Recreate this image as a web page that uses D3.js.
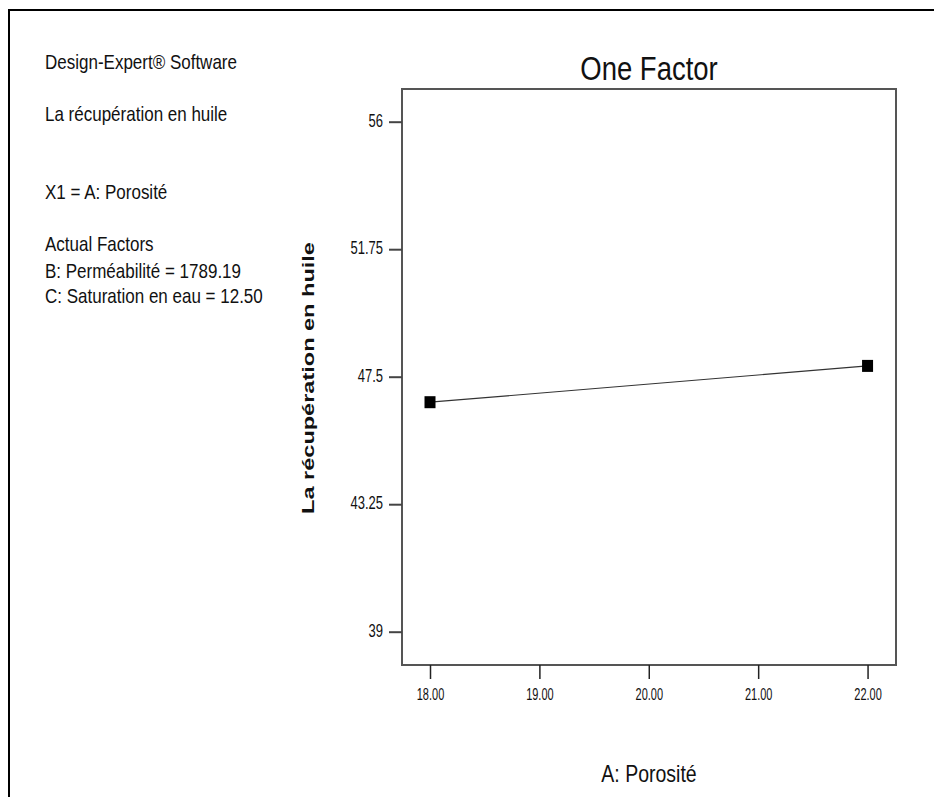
<!DOCTYPE html>
<html>
<head>
<meta charset="utf-8">
<script src="https://cdn.jsdelivr.net/npm/d3@7"></script>
<style>
  body { margin: 0; background: #fff; }
  text { font-family: "Liberation Sans", Arial, sans-serif; fill: #111; }
</style>
</head>
<body>
<div id="chart"></div>
<script>
// values
let porosite = [18, 22];
let recuperation = [46.65, 47.86];
let xTicks = [18, 19, 20, 21, 22];
let yTicks = [39, 43.25, 47.5, 51.75, 56];
let infoLines = [
  {t: "Design-Expert® Software", y: 69},
  {t: "La récupération en huile", y: 121},
  {t: "X1 = A: Porosité", y: 199},
  {t: "Actual Factors", y: 251},
  {t: "B: Perméabilité = 1789.19", y: 278},
  {t: "C: Saturation en eau = 12.50", y: 303}
];

let w = 934,
    h = 797;

let margin = { top: 89, left: 402, right: 38, bottom: 132 };

// the original picture is stretched in height, so text gets a vertical scale
let stretch = (sel, sy) => sel.attr("transform", function() {
  let t = d3.select(this).attr("data-pos");
  return `${t} scale(1,${sy})`;
});

let svg = d3.select("#chart")
            .append("svg")
            .attr("width", w)
            .attr("height", h);

// outer frame (only top and left show)
svg.append("path")
   .attr("d", `M9,${h} V10 H${w}`)
   .attr("fill", "none")
   .attr("stroke", "#000")
   .attr("stroke-width", 2);

let x = d3.scaleLinear()
          .domain([17.744, 22.26])
          .range([margin.left, w - margin.right]);

let y = d3.scaleLinear()
          .domain([37.89, 57.09])
          .range([h - margin.bottom, margin.top]);

// plot box
svg.append("rect")
   .attr("x", margin.left)
   .attr("y", margin.top)
   .attr("width", w - margin.right - margin.left)
   .attr("height", h - margin.bottom - margin.top)
   .attr("fill", "none")
   .attr("stroke", "#555")
   .attr("stroke-width", 2);

// y axis
let yAxis = svg.append("g")
   .attr("transform", `translate(${margin.left},0)`)
   .call(d3.axisLeft(y).tickValues(yTicks).tickSize(13).tickPadding(6).tickFormat(d => d));
yAxis.select(".domain").remove();
yAxis.selectAll(".tick line").attr("stroke", "#444").attr("stroke-width", 2);
yAxis.selectAll(".tick text")
     .style("font-size", "13px")
     .style("font-family", "Liberation Sans, Arial, sans-serif")
     .attr("fill", "#222")
     .attr("x", null).attr("dy", null)
     .attr("data-pos", "translate(-19,4.5)")
     .call(stretch, 1.42);

// x axis
let xAxis = svg.append("g")
   .attr("transform", `translate(0,${h - margin.bottom})`)
   .call(d3.axisBottom(x).tickValues(xTicks).tickSize(14).tickPadding(10).tickFormat(d3.format(".2f")));
xAxis.select(".domain").remove();
xAxis.selectAll(".tick line").attr("stroke", "#222").attr("stroke-width", 1.5);
xAxis.selectAll(".tick text")
     .style("font-size", "11px")
     .style("font-family", "Liberation Sans, Arial, sans-serif")
     .attr("fill", "#222")
     .attr("y", null).attr("dy", null)
     .attr("data-pos", "translate(0,35)")
     .call(stretch, 1.45);

// line and points
let pts = porosite.map((d, i) => [d, recuperation[i]]);

svg.append("path")
   .datum(pts)
   .attr("d", d3.line().x(d => x(d[0])).y(d => y(d[1])))
   .attr("fill", "none")
   .attr("stroke", "#333")
   .attr("stroke-width", 1.2);

svg.selectAll(".pt")
   .data(pts)
   .enter()
   .append("rect")
   .attr("class", "pt")
   .attr("x", d => x(d[0]) - 5.5)
   .attr("y", d => y(d[1]) - 6)
   .attr("width", 11)
   .attr("height", 12)
   .attr("fill", "#000");

// titles
let cx = (margin.left + w - margin.right) / 2;

svg.append("text")
   .attr("text-anchor", "middle")
   .style("font-size", "27.5px")
   .attr("data-pos", `translate(${cx},80)`)
   .call(stretch, 1.18)
   .text("One Factor");

svg.append("text")
   .attr("text-anchor", "middle")
   .style("font-size", "19.5px")
   .attr("data-pos", `translate(${cx},782)`)
   .call(stretch, 1.2)
   .text("A: Porosité");

svg.append("text")
   .attr("transform", "translate(313.5,378) rotate(-90) scale(1.47,1)")
   .attr("text-anchor", "middle")
   .style("font-size", "16px")
   .style("font-weight", "bold")
   .text("La récupération en huile");

// left info block
svg.selectAll(".info")
   .data(infoLines)
   .enter()
   .append("text")
   .attr("class", "info")
   .style("font-size", "17px")
   .attr("data-pos", d => `translate(45,${d.y})`)
   .call(stretch, 1.22)
   .text(d => d.t);
</script>
</body>
</html>
